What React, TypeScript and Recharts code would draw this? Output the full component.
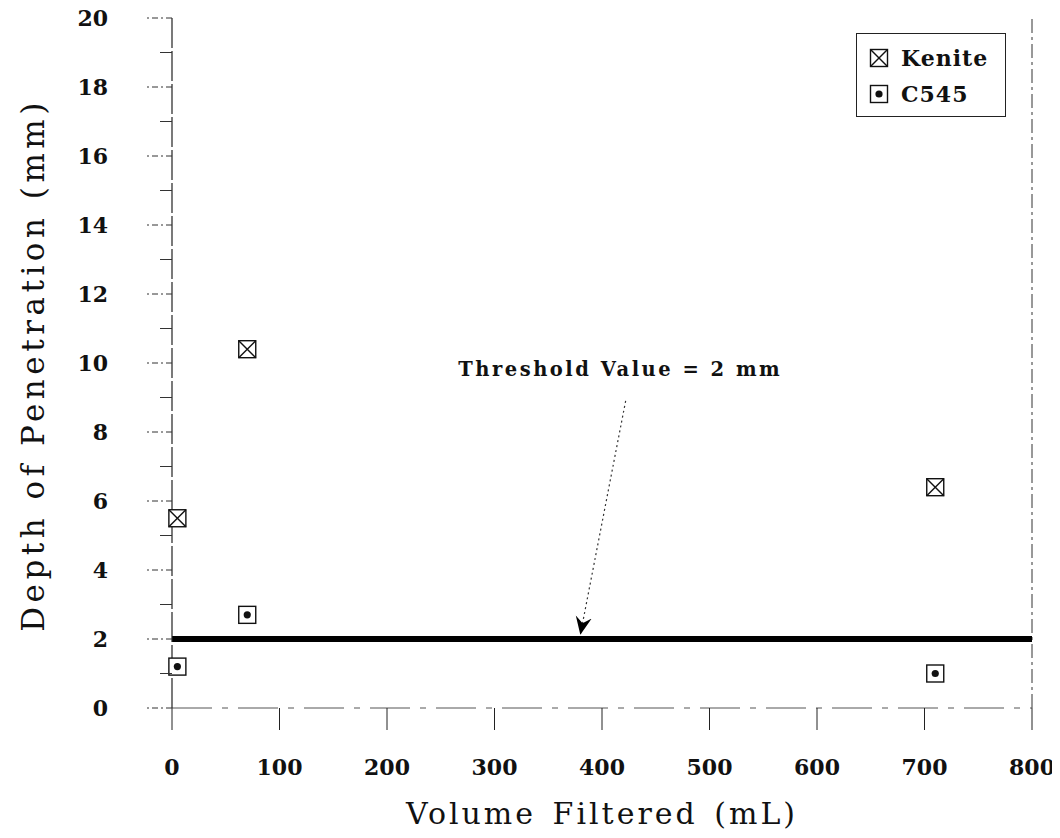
import * as React from "react";
import {
  ScatterChart,
  Scatter,
  XAxis,
  YAxis,
  ReferenceLine,
  ReferenceDot,
  Legend,
} from "recharts";

// values
const kenVolume = [5, 70, 710];
const kenDepth = [5.5, 10.4, 6.4];
const c545Volume = [5, 70, 710];
const c545Depth = [1.2, 2.7, 1.0];

const seriesNames = ["Kenite", "C545"];

const xTicks = [0, 100, 200, 300, 400, 500, 600, 700, 800];
const yTicks = [0, 1, 2, 3, 4, 5, 6, 7, 8, 9, 10, 11, 12, 13, 14, 15, 16, 17, 18, 19, 20];

const THRESHOLD = 2;
const thresholdNote = "Threshold Value = 2 mm";
const notePos = { x: 417, y: 9.8 };
const arrowFrom = { x: 422, y: 8.9 };
const arrowTo = { x: 380, y: 2.15 };

const SERIF = '"DejaVu Serif", "Liberation Serif", serif';
const INK = "#111";

const Y_TICK_SIZE = 14;
const Y_TICK_MARGIN = 50;

const kenData = kenVolume.map((x, i) => ({ x, y: kenDepth[i] }));
const c545Data = c545Volume.map((x, i) => ({ x, y: c545Depth[i] }));

function KeniteMark({ cx, cy }: { cx: number; cy: number }) {
  const h = 8.5;
  return (
    <g stroke={INK} strokeWidth={1.4} fill="#fff">
      <rect x={cx - h} y={cy - h} width={2 * h} height={2 * h} />
      <line x1={cx - h} y1={cy - h} x2={cx + h} y2={cy + h} />
      <line x1={cx + h} y1={cy - h} x2={cx - h} y2={cy + h} />
    </g>
  );
}

function C545Mark({ cx, cy }: { cx: number; cy: number }) {
  const h = 8.5;
  return (
    <g>
      <rect x={cx - h} y={cy - h} width={2 * h} height={2 * h} stroke={INK} strokeWidth={1.4} fill="#fff" />
      <circle cx={cx} cy={cy} r={3.6} fill={INK} />
    </g>
  );
}

function YTick(props: any) {
  const { x, y, payload } = props;
  const axisX = x + Y_TICK_SIZE + Y_TICK_MARGIN;
  const major = payload.value % 2 === 0;
  return (
    <g>
      <line
        x1={axisX}
        x2={axisX - (major ? 26 : 12)}
        y1={y}
        y2={y}
        stroke="#333"
        strokeWidth={1}
        strokeDasharray={major ? "6 3 2 3" : undefined}
      />
      {major && (
        <text x={x} y={y} dy={8} textAnchor="end" fill={INK} style={{ fontFamily: SERIF, fontWeight: 700, fontSize: 22 }}>
          {payload.value}
        </text>
      )}
    </g>
  );
}

function XTick(props: any) {
  const { x, y, payload } = props;
  return (
    <text x={x} y={y} dy={16} textAnchor="middle" fill={INK} style={{ fontFamily: SERIF, fontWeight: 700, fontSize: 22 }}>
      {payload.value}
    </text>
  );
}

function renderLegend() {
  return (
    <div
      style={{
        border: "1px solid #222",
        background: "#fff",
        boxSizing: "border-box",
        width: 150,
        height: 84,
        paddingTop: 6,
        fontFamily: SERIF,
        fontWeight: 700,
        fontSize: 22,
        color: INK,
      }}
    >
      {seriesNames.map((name) => (
        <div key={name} style={{ display: "flex", alignItems: "center", height: 36, letterSpacing: 1 }}>
          <svg width={44} height={24} style={{ flex: "none" }}>
            {name === "Kenite" ? <KeniteMark cx={22} cy={12} /> : <C545Mark cx={22} cy={12} />}
          </svg>
          <span>{name}</span>
        </div>
      ))}
    </div>
  );
}

export default function App() {
  return (
    <div style={{ position: "relative", width: 1052, height: 832, marginTop: -10, background: "#fff" }}>
      <svg width={0} height={0} style={{ position: "absolute" }}>
        <defs>
          <marker
            id="thrArrow"
            viewBox="0 0 20 20"
            refX={19}
            refY={10}
            markerWidth={18}
            markerHeight={18}
            markerUnits="userSpaceOnUse"
            orient="auto"
          >
            <path d="M0,1 L20,10 L0,19 L7,10 Z" fill="#000" />
          </marker>
        </defs>
      </svg>
      <ScatterChart width={1052} height={832} margin={{ top: 20, right: 28, bottom: 62, left: 64 }}>
        <XAxis
          type="number"
          dataKey="x"
          domain={[0, 800]}
          ticks={xTicks}
          interval={0}
          height={60}
          tickSize={22}
          tickMargin={29}
          tick={XTick}
          axisLine={{ stroke: "#555", strokeWidth: 1, strokeDasharray: "40 10 6 10" }}
          tickLine={{ stroke: "#222", strokeWidth: 1 }}
          label={{
            content: ({ viewBox }: any) => (
              <text
                x={viewBox.x + viewBox.width / 2}
                y={viewBox.y + 116}
                textAnchor="middle"
                fill={INK}
                style={{ fontFamily: SERIF, fontSize: 30, letterSpacing: 3, wordSpacing: 4 }}
              >
                Volume Filtered (mL)
              </text>
            ),
          }}
        />
        <YAxis
          type="number"
          dataKey="y"
          domain={[0, 20]}
          ticks={yTicks}
          interval={0}
          width={100}
          tickSize={Y_TICK_SIZE}
          tickMargin={Y_TICK_MARGIN}
          tick={YTick}
          tickLine={false}
          axisLine={{ stroke: "#222", strokeWidth: 1.2, strokeDasharray: "30 3" }}
          label={{
            content: ({ viewBox }: any) => {
              const cx = viewBox.x - 39;
              const cy = viewBox.y + viewBox.height / 2 + 2;
              return (
                <text
                  x={cx}
                  y={cy}
                  transform={`rotate(-90 ${cx} ${cy})`}
                  textAnchor="middle"
                  dominantBaseline="central"
                  fill={INK}
                  style={{ fontFamily: SERIF, fontSize: 31, letterSpacing: 4.5 }}
                >
                  Depth of Penetration (mm)
                </text>
              );
            },
          }}
        />

        {/* right frame edge */}
        <ReferenceLine x={800} stroke="#333" strokeWidth={1} strokeDasharray="14 4 3 4" />

        <ReferenceLine y={THRESHOLD} stroke="#000" strokeWidth={6} />

        <ReferenceLine
          segment={[arrowFrom, arrowTo]}
          stroke="#333"
          strokeWidth={1.2}
          strokeDasharray="2 3"
          shape={(p: any) => (
            <line x1={p.x1} y1={p.y1} x2={p.x2} y2={p.y2} stroke="#333" strokeWidth={1.2} strokeDasharray="2 3" markerEnd="url(#thrArrow)" />
          )}
        />

        <ReferenceDot
          x={notePos.x}
          y={notePos.y}
          r={0}
          shape={(p: any) => (
            <text
              x={p.cx}
              y={p.cy}
              textAnchor="middle"
              dominantBaseline="central"
              fill={INK}
              style={{ fontFamily: SERIF, fontWeight: 700, fontSize: 19.5, letterSpacing: 2.5 }}
            >
              {thresholdNote}
            </text>
          )}
        />

        <Scatter name="Kenite" data={kenData} shape={(p: any) => <KeniteMark cx={p.cx} cy={p.cy} />} isAnimationActive={false} />
        <Scatter name="C545" data={c545Data} shape={(p: any) => <C545Mark cx={p.cx} cy={p.cy} />} isAnimationActive={false} />

        <Legend
          layout="vertical"
          align="center"
          verticalAlign="middle"
          content={renderLegend}
          wrapperStyle={{ top: 35, left: 848, width: 150, height: 84 }}
        />
      </ScatterChart>
    </div>
  );
}
